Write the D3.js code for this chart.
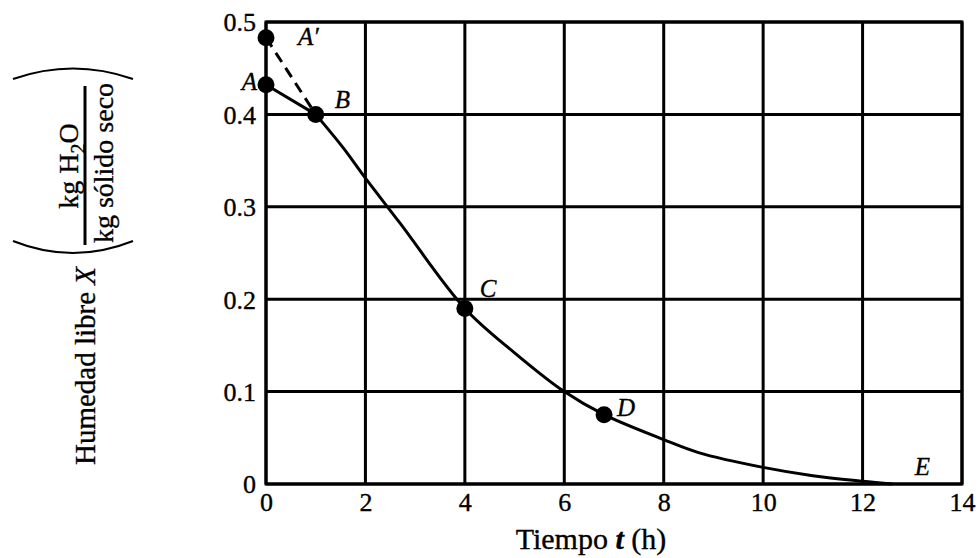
<!DOCTYPE html>
<html>
<head>
<meta charset="utf-8">
<script src="https://cdn.jsdelivr.net/npm/d3@7"></script>
<style>
  html, body { margin: 0; padding: 0; background: #fff; }
  svg { display: block; }
  text { font-family: "Liberation Serif", "Times New Roman", serif; fill: #000; stroke: #000; stroke-width: 0.35px; }
</style>
</head>
<body>
<svg id="chart" width="980" height="558"></svg>
<script>
// ---- data ----
const xTicks = [0, 2, 4, 6, 8, 10, 12, 14];
const yTicks = [0, 0.1, 0.2, 0.3, 0.4, 0.5];
const yTickLabels = ["0", "0.1", "0.2", "0.3", "0.4", "0.5"];
// initial (adjustment) segment A -> B
const segA = [[0, 0.432], [1, 0.40]];
// dashed extrapolation A' -> B
const segAprime = [[0, 0.483], [1, 0.40]];
// drying curve B -> E
const curveT = [1, 1.55, 2, 2.7, 4, 5, 6, 6.8, 8, 8.7, 10, 11, 12, 12.6];
const curveX = [0.40, 0.364, 0.331, 0.282, 0.19, 0.142, 0.10, 0.075, 0.048, 0.034, 0.018, 0.009, 0.003, 0.0];
// marked points
const pointNames = ["A'", "A", "B", "C", "D"];
const pointT = [0, 0, 1, 4, 6.8];
const pointX = [0.483, 0.432, 0.40, 0.19, 0.075];
const endLabel = { name: "E", t: 13.05, x: 0.0 };

// ---- layout ----
const W = 980, H = 558;
const m = { left: 266, right: 18, top: 22, bottom: 74 };
const svg = d3.select("#chart");
const x = d3.scaleLinear().domain([0, 14]).range([m.left, W - m.right]);
const y = d3.scaleLinear().domain([0, 0.5]).range([H - m.bottom, m.top]);

const g = svg.append("g");

// grid
g.selectAll("line.vg").data(xTicks).enter().append("line")
  .attr("x1", d => x(d)).attr("x2", d => x(d))
  .attr("y1", y(0)).attr("y2", y(0.5))
  .attr("stroke", "#000").attr("stroke-width", 3);
g.selectAll("line.hg").data(yTicks).enter().append("line")
  .attr("x1", x(0)).attr("x2", x(14))
  .attr("y1", d => y(d)).attr("y2", d => y(d))
  .attr("stroke", "#000").attr("stroke-width", 3);
g.append("rect").attr("x", x(0)).attr("y", y(0.5))
  .attr("width", x(14) - x(0)).attr("height", y(0) - y(0.5))
  .attr("fill", "none").attr("stroke", "#000").attr("stroke-width", 3);

// axes (labels only)
const xAxis = d3.axisBottom(x).tickValues(xTicks).tickSize(0).tickPadding(0).tickFormat(d3.format("d"));
const xa = svg.append("g").attr("transform", `translate(0,${y(0)})`).call(xAxis);
xa.select(".domain").remove();
xa.selectAll("text").attr("font-size", 26).attr("dy", null).attr("y", 27)
  .style("font-family", '"Liberation Serif", serif');

const yAxis = d3.axisLeft(y).tickValues(yTicks).tickSize(0).tickPadding(0)
  .tickFormat((d, i) => yTickLabels[i]);
const ya = svg.append("g").attr("transform", `translate(${x(0) - 10},0)`).call(yAxis);
ya.select(".domain").remove();
ya.selectAll("text").attr("font-size", 26).attr("dy", "0.34em").attr("x", 0)
  .style("font-family", '"Liberation Serif", serif');

// curves
const line = d3.line().x(d => x(d[0])).y(d => y(d[1]));
g.append("path").attr("d", line(segA)).attr("fill", "none")
  .attr("stroke", "#000").attr("stroke-width", 3);
g.append("path").attr("d", line(segAprime)).attr("fill", "none")
  .attr("stroke", "#000").attr("stroke-width", 3).attr("stroke-dasharray", "11,7");
const curveData = curveT.map((t, i) => [t, curveX[i]]);
g.append("path").attr("d", line.curve(d3.curveCatmullRom.alpha(0.5))(curveData)).attr("fill", "none")
  .attr("stroke", "#000").attr("stroke-width", 3);

// points
const pts = pointNames.map((n, i) => ({ name: n, t: pointT[i], v: pointX[i] }));
g.selectAll("circle.pt").data(pts).enter().append("circle")
  .attr("cx", d => x(d.t)).attr("cy", d => y(d.v)).attr("r", 8.5).attr("fill", "#000");

// point labels
const labelOffsets = {
  "A'": { dx: 32, dy: 7, anchor: "start" },
  "A": { dx: -9, dy: 5, anchor: "end" },
  "B": { dx: 19, dy: -6, anchor: "start" },
  "C": { dx: 15, dy: -11, anchor: "start" },
  "D": { dx: 13, dy: 1, anchor: "start" }
};
g.selectAll("text.pl").data(pts).enter().append("text")
  .attr("x", d => x(d.t) + labelOffsets[d.name].dx)
  .attr("y", d => y(d.v) + labelOffsets[d.name].dy)
  .attr("text-anchor", d => labelOffsets[d.name].anchor)
  .attr("font-size", 25).attr("font-style", "italic")
  .text(d => d.name === "A'" ? "A\u2032" : d.name);
g.append("text").attr("x", x(endLabel.t)).attr("y", y(endLabel.x) - 9)
  .attr("font-size", 25).attr("font-style", "italic").text(endLabel.name);

// x title
const xt = svg.append("text").attr("x", 591).attr("y", 549).attr("text-anchor", "middle")
  .attr("font-size", 30);
xt.append("tspan").text("Tiempo ");
xt.append("tspan").attr("font-style", "italic").attr("font-weight", "bold").text("t");
xt.append("tspan").text(" (h)");

// y title
const yt = svg.append("text").attr("transform", "translate(95,366) rotate(-90)")
  .attr("text-anchor", "middle").attr("font-size", 29);
yt.append("tspan").text("Humedad libre ");
yt.append("tspan").attr("font-style", "italic").text("X");

// fraction
const num = svg.append("text").attr("transform", "translate(78,166) rotate(-90)")
  .attr("text-anchor", "middle").attr("font-size", 28);
num.append("tspan").text("kg H");
num.append("tspan").attr("font-size", 20).attr("dy", 7).text("2");
num.append("tspan").attr("dy", -7).text("O");
svg.append("line").attr("x1", 85).attr("x2", 85).attr("y1", 86).attr("y2", 245)
  .attr("stroke", "#000").attr("stroke-width", 3);
svg.append("text").attr("transform", "translate(113,163) rotate(-90)")
  .attr("text-anchor", "middle").attr("font-size", 28).text("kg sólido seco");

// parentheses (rotated)
svg.append("path").attr("d", "M13,79 Q73,58 133,79").attr("fill", "none")
  .attr("stroke", "#000").attr("stroke-width", 2);
svg.append("path").attr("d", "M13,241 Q73,265 133,241").attr("fill", "none")
  .attr("stroke", "#000").attr("stroke-width", 2);
</script>
</body>
</html>
